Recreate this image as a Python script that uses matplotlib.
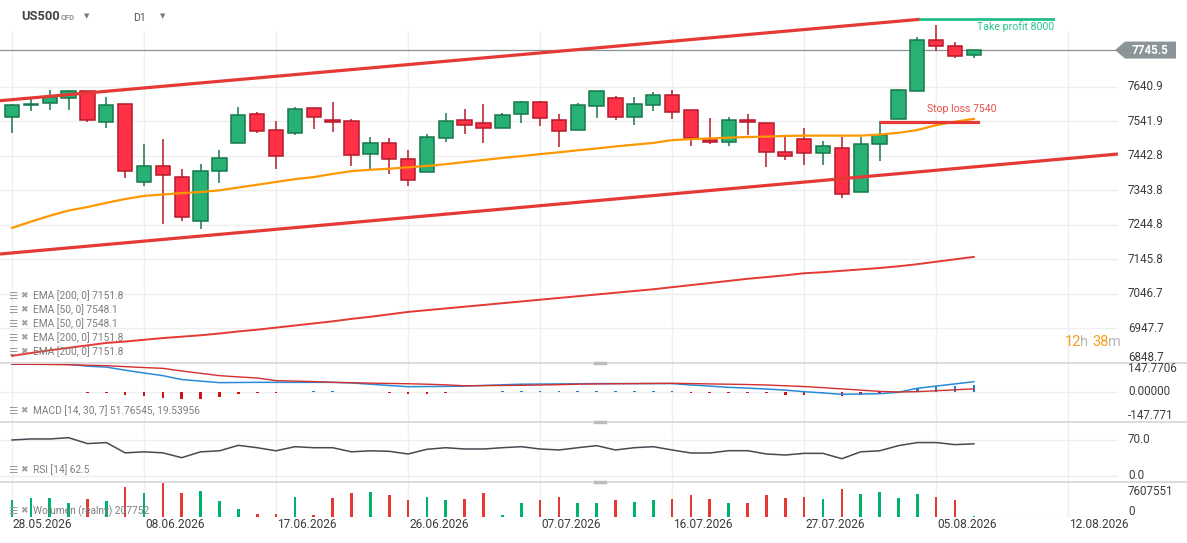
import numpy as np
import matplotlib
matplotlib.use("Agg")
import matplotlib.pyplot as plt
import matplotlib.transforms as mtrans
from matplotlib.lines import Line2D
from matplotlib.patches import Polygon

plt.rcParams['font.family'] = ['Roboto', 'DejaVu Sans']

# ---- data ----
opens = [7553.4, 7587.8, 7593.6, 7607.9, 7628.0, 7539.0, 7590.7, 7366.8, 7412.7, 7381.2,
         7254.9, 7398.4, 7478.8, 7562.0, 7516.1, 7507.5, 7579.2, 7544.8, 7541.9, 7447.2,
         7478.8, 7432.8, 7395.5, 7493.1, 7544.8, 7536.2, 7521.8, 7562.0, 7596.4, 7544.8,
         7516.1, 7584.9, 7607.9, 7553.4, 7587.8, 7616.5, 7573.5, 7487.4, 7481.6, 7544.8,
         7536.2, 7452.9, 7490.2, 7450.1, 7464.4, 7338.1, 7475.9, 7547.6, 7628.0, 7774.4,
         7757.2, 7731.3]
highs = [7590.7, 7610.8, 7630.9, 7630.9, 7628.0, 7610.8, 7590.7, 7475.9, 7490.2, 7404.1,
         7418.5, 7458.7, 7582.1, 7567.7, 7541.9, 7582.1, 7579.2, 7596.4, 7547.6, 7496.0,
         7493.1, 7458.7, 7504.6, 7564.9, 7576.3, 7590.7, 7564.9, 7599.3, 7599.3, 7562.0,
         7593.6, 7628.0, 7613.7, 7610.8, 7625.1, 7630.9, 7573.5, 7550.5, 7553.4, 7562.0,
         7536.2, 7498.9, 7521.8, 7484.5, 7496.0, 7496.0, 7541.9, 7633.7, 7783.0, 7817.4,
         7768.6, 7745.7]
lows = [7507.5, 7570.6, 7573.5, 7573.5, 7539.0, 7521.8, 7378.3, 7355.3, 7246.3, 7254.9,
        7231.9, 7364.0, 7478.8, 7507.5, 7404.1, 7501.7, 7518.9, 7510.3, 7412.7, 7404.1,
        7389.8, 7355.3, 7395.5, 7481.6, 7504.6, 7478.8, 7521.8, 7536.2, 7527.5, 7467.3,
        7516.1, 7550.5, 7544.8, 7530.4, 7570.6, 7547.6, 7470.1, 7475.9, 7470.1, 7501.7,
        7409.9, 7430.0, 7415.6, 7415.6, 7320.9, 7338.1, 7427.1, 7547.6, 7628.0, 7742.8,
        7722.7, 7722.7]
closes = [7587.8, 7590.7, 7610.8, 7628.0, 7544.8, 7587.8, 7398.4, 7412.7, 7386.9, 7266.4,
          7398.4, 7435.7, 7559.1, 7513.2, 7441.4, 7576.3, 7553.4, 7539.0, 7444.3, 7478.8,
          7432.8, 7372.6, 7496.0, 7541.9, 7530.4, 7521.8, 7559.1, 7596.4, 7550.5, 7513.2,
          7587.8, 7628.0, 7553.4, 7590.7, 7616.5, 7567.7, 7493.1, 7481.6, 7544.8, 7539.0,
          7452.9, 7441.4, 7450.1, 7470.1, 7332.4, 7475.9, 7501.7, 7630.9, 7774.4, 7757.2,
          7728.5, 7745.5]

ema50 = [7235, 7253, 7270, 7285, 7295, 7307, 7318, 7327, 7331, 7335,
         7338, 7343, 7351, 7359, 7367, 7375, 7381, 7390, 7398, 7402,
         7405, 7409, 7413, 7418, 7424, 7430, 7436, 7441, 7447, 7452,
         7458, 7463, 7469, 7474, 7479, 7487, 7490, 7492, 7494, 7496,
         7497, 7499, 7500, 7500, 7500, 7500, 7503, 7508, 7516, 7530,
         7540, 7548]
ema200 = [6868, 6876, 6884, 6891, 6898, 6905, 6909, 6914, 6919, 6923,
          6927, 6932, 6938, 6943, 6949, 6955, 6961, 6967, 6974, 6980,
          6987, 6994, 6999, 7004, 7009, 7014, 7019, 7024, 7029, 7034,
          7039, 7044, 7049, 7054, 7059, 7065, 7071, 7077, 7083, 7089,
          7094, 7099, 7105, 7108, 7112, 7116, 7120, 7125, 7131, 7138,
          7145, 7152]

macd = [178, 178, 178, 178, 166, 160, 140, 122, 105, 80,
        70, 60, 61, 62, 62, 62, 62, 62, 58, 50,
        42, 34, 35, 36, 38, 42, 46, 50, 51, 52,
        53, 54, 54, 54, 54, 54, 45, 38, 30, 25,
        19, 12, 2, -6, -15, -13, -11, -2, 24, 38,
        52, 66]
signal = [178, 178, 177, 175, 172, 169, 163, 157, 152, 135,
          120, 105, 97, 90, 73, 70, 67, 62, 60, 57,
          55, 53, 50, 46, 40, 41, 42, 43, 45, 47,
          50, 52, 53, 54, 55, 56, 54, 52, 50, 48,
          45, 40, 35, 28, 20, 12, 4, 0, 2, 8,
          14, 20]
hist = [0, 0, 0, 0, -6, -6, -21, -28, -41, -47,
        -47, -34, -15, -9, -4, 0, 4, 4, 0, 0,
        -6, -15, -11, -5, 0, 0, 4, 9, 9, 4,
        4, 9, 4, 4, 4, 4, -4, -9, -9, -4,
        -9, -19, -19, -9, -26, -19, -4, 0, 28, 41,
        41, 43]

rsi = [70, 72, 72, 74.5, 63, 65, 45, 47, 45, 35.6,
       47, 49, 59.6, 55, 49, 57, 55, 55, 47, 49,
       48, 42.8, 51.9, 55, 52.5, 52.5, 55, 57, 52.5, 50.6,
       55, 59, 50.6, 55, 57, 50.6, 44.7, 44.7, 49.2, 49.2,
       42.8, 40.8, 44, 44, 33.6, 47, 49, 59, 65, 65,
       61, 62.5]

volume = [5.0, 5.6, 5.6, 4.1, 5.3, 4.7, 8.9, 7.1, 10.1, 7.1,
          7.7, 4.7, 2.3, 0.8, 0.8, 5.9, 0.5, 5.6, 7.1, 7.4,
          6.5, 5.0, 5.9, 5.0, 5.3, 7.1, 0.5, 4.1, 5.0, 5.9,
          4.1, 4.1, 5.0, 4.4, 5.0, 5.3, 6.5, 5.3, 4.1, 4.1,
          6.5, 5.7, 5.9, 5.3, 8.3, 6.8, 7.4, 5.6, 6.8, 5.9,
          5.0, 0.207752]  # millions

price_ticks = [7640.9, 7541.9, 7442.8, 7343.8, 7244.8, 7145.8, 7046.7, 6947.7, 6848.7]
date_pos = [0, 7, 14, 21, 28, 35, 42, 49, 56]
date_labels = ["28.05.2026", "08.06.2026", "17.06.2026", "26.06.2026", "07.07.2026",
               "16.07.2026", "27.07.2026", "05.08.2026", "12.08.2026"]

# trend channel (index, price)
upper_x, upper_y = [-0.636, 48.14], [7600.2, 7833.8]
lower_x, lower_y = [-0.636, 58.64], [7160.2, 7447.2]
tp_x, tp_level = [48.14, 55.2], 7834.6
sl_x, sl_level = [46.1, 51.2], 7540.0
last_price = 7745.5

# ---- layout ----
W, H = 1187, 543
fig = plt.figure(figsize=(W / 100, H / 100), dpi=100)


def box(x0, y0, x1, y1):
    return [x0 / W, 1 - y1 / H, (x1 - x0) / W, (y1 - y0) / H]


XR = 1118
XL = (-12 / 18.86, (XR - 12) / 18.86)
ax = fig.add_axes(box(0, 0, XR, 363))
ax_m = fig.add_axes(box(0, 363, XR, 422))
ax_r = fig.add_axes(box(0, 422, XR, 482))
ax_v = fig.add_axes(box(0, 482, XR, 517))
for a in (ax, ax_m, ax_r, ax_v):
    a.set_xlim(*XL)
    a.axis('off')

ax.set_ylim(6847.4, 7889.2)
ax_m.set_ylim(-192.8, 186.3)
ax_r.set_ylim(-11.7, 105)
ax_v.set_ylim(-0.1, 10.41)

grid_c = '#efefef'
for p in price_ticks:
    ax.axhline(p, color=grid_c, lw=1, zorder=0)
for d in date_pos:
    ax.axvline(d, ymax=(363 - 32) / 363, color=grid_c, lw=1, zorder=0)
    for a in (ax_m, ax_r, ax_v):
        a.axvline(d, color=grid_c, lw=1, zorder=0)
ax_m.axhline(0, color=grid_c, lw=1, zorder=0)
ax_r.axhline(70, color=grid_c, lw=1, zorder=0)
ax_r.axhline(0, color=grid_c, lw=1, zorder=0)

# ---- price pane ----
x = np.arange(len(closes))
o, h, l, c = map(np.array, (opens, highs, lows, closes))
up = c >= o
fill = np.where(up, '#27b175', '#ff3146')
edge = np.where(up, '#17784b', '#b8192b')
ax.vlines(x, l, h, colors=edge, lw=1.1, zorder=3)
ax.bar(x, np.maximum(np.abs(c - o), 1.0), bottom=np.minimum(o, c), width=0.76,
       color=fill, edgecolor=edge, linewidth=1.1, zorder=4)

ax.plot(x, ema50, color='#ff9800', lw=1.6, zorder=5)
ax.plot(x, ema200, color='#e53935', lw=1.4, zorder=5)
ax.plot(upper_x, upper_y, color='#e53935', lw=2.3, zorder=6, solid_capstyle='butt')
ax.plot(lower_x, lower_y, color='#e53935', lw=2.3, zorder=6, solid_capstyle='butt')

ax.plot(tp_x, [tp_level] * 2, color='#1fbf86', lw=2.0, zorder=6, clip_on=False)
ax.text(tp_x[1] + 0.05, tp_level - 22, "Take profit 8000", color='#2cc489',
        fontsize=7.6, ha='right', va='center')
ax.plot(sl_x, [sl_level] * 2, color='#e53935', lw=2.3, zorder=6)
ax.text(52.2, sl_level + 37, "Stop loss 7540", color='#e8504a',
        fontsize=7.6, ha='right', va='center')

ax.axhline(last_price, xmax=(1115) / XR, color='#8d9194', lw=0.9, zorder=2)

# right side labels
def right_label(a, val, txt, dy=0, **kw):
    tr = mtrans.blended_transform_factory(fig.transFigure, a.transData)
    tr = mtrans.offset_copy(tr, fig=fig, x=0, y=dy, units='dots')
    fig.text(1128 / W, val, txt, transform=tr, va='center', ha='left',
             fontsize=8.4, color='#3c3c3c', **kw)


for p in price_ticks:
    right_label(ax, p, f"{p:.1f}", dy=5 if p == price_ticks[-1] else 0)

trb = mtrans.blended_transform_factory(fig.transFigure, ax.transData)
half = 8.5 * 2.87
poly = Polygon([[1115 / W, last_price], [1125 / W, last_price + half],
                [1176 / W, last_price + half], [1176 / W, last_price - half],
                [1125 / W, last_price - half]], closed=True, transform=trb,
               facecolor='#8b9497', edgecolor='none', clip_on=False)
fig.add_artist(poly)
fig.text(1150 / W, last_price, f"{last_price:.1f}", transform=trb, ha='center',
         va='center', color='white', fontsize=8.4, fontweight='bold')

# countdown
for xp, t, col in [(1065, "12", '#f5a01c'), (1080, "h", '#b9b9b9'),
                   (1092, "38", '#f5a01c'), (1108, "m", '#b9b9b9')]:
    fig.text(xp / W, 1 - 342 / H, t, color=col, fontsize=10.5, va='center', ha='left')

# header
fig.text(21 / W, 1 - 17 / H, "US500", fontsize=9.3, fontweight='bold',
         color='#3f4246', va='center')
fig.text(61 / W, 1 - 18 / H, "CFD", fontsize=5.5, fontweight='bold',
         color='#8f8f8f', va='center')
fig.text(87 / W, 1 - 16 / H, "\u25BC", fontsize=5, color='#777777',
         va='center', ha='center', family='DejaVu Sans')
fig.text(133 / W, 1 - 18 / H, "D1", fontsize=7.6, color='#555555', va='center')
fig.text(163 / W, 1 - 16 / H, "\u25BC", fontsize=5, color='#777777',
         va='center', ha='center', family='DejaVu Sans')

# indicator legends
def legend_row(y, txt):
    fig.text(8 / W, 1 - y / H, "\u2630", fontsize=7.5, color='#9a9a9a',
             va='center', family='DejaVu Sans')
    fig.text(20 / W, 1 - y / H, "\u2716", fontsize=6.5, color='#a0a0a0',
             va='center', family='DejaVu Sans')
    fig.text(33 / W, 1 - y / H, txt, fontsize=7.3, color='#7d7d7d', va='center',
             zorder=1)


for yy, t in [(296, "EMA [200, 0] 7151.8"), (310, "EMA [50, 0] 7548.1"),
              (324, "EMA [50, 0] 7548.1"), (338, "EMA [200, 0] 7151.8"),
              (352, "EMA [200, 0] 7151.8"),
              (411, "MACD [14, 30, 7] 51.76545, 19.53956"),
              (470, "RSI [14] 62.5"), (511, "Wolumen (realny) 207752")]:
    legend_row(yy, t)

# ---- MACD pane ----
hist_a = np.array(hist, dtype=float)
ax_m.bar(x, hist_a, width=0.14, color=np.where(hist_a >= 0, '#1a7fc8', '#cc1414'), zorder=3)
ax_m.plot(x, macd, color='#2a8bd6', lw=1.1, zorder=4)
ax_m.plot(x, signal, color='#d32f2f', lw=1.0, zorder=4)
right_label(ax_m, 147.7706, "147.7706")
right_label(ax_m, 0, "0.00000")
right_label(ax_m, -147.771, "-147.771", dy=-1)

# ---- RSI pane ----
ax_r.plot(x, rsi, color='#444b52', lw=1.1, zorder=3)
right_label(ax_r, 70, "70.0")
right_label(ax_r, 0, "0.0")

# ---- volume pane ----
ax_v.bar(x, volume, width=0.14, color=np.where(up, '#00b36b', '#e53935'), zorder=3)
ax_v.axhline(0, color='#e8e8e8', lw=1, zorder=1)
right_label(ax_v, 7.607551, "7607551")
right_label(ax_v, 0, "0", dy=5)

# dates
trd = mtrans.blended_transform_factory(ax.transData, fig.transFigure)
for d, t in zip(date_pos, date_labels):
    fig.text(d + 0.05, 1 - 525 / H, t, transform=trd, fontsize=8.6, color='#3c3c3c',
             va='center', ha='left')

# pane separators
for yy in (363, 422, 482):
    fig.add_artist(Line2D([0, 1], [1 - yy / H] * 2, color='#dcdcdc', lw=1.4))
    fig.add_artist(Line2D([595 / W, 605 / W], [1 - yy / H] * 2, color='#bcbcbc', lw=2.5))

fig.savefig("out.png", dpi=100)
